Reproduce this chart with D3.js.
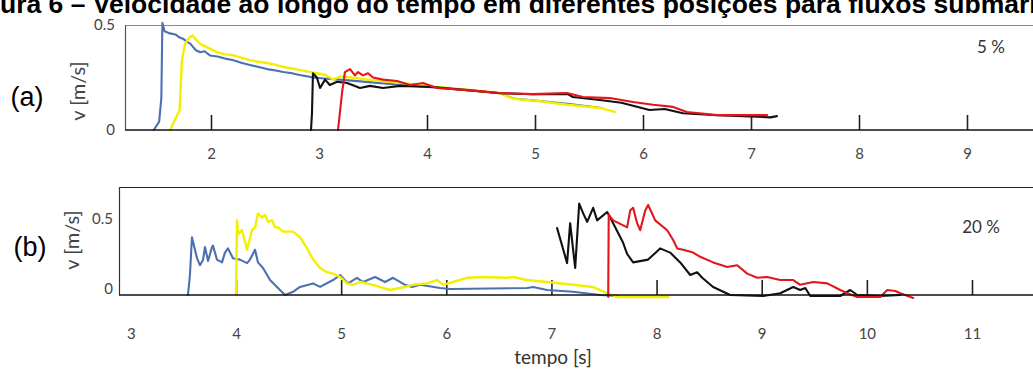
<!DOCTYPE html>
<html><head><meta charset="utf-8">
<script src="https://cdn.jsdelivr.net/npm/d3@7"></script>
<style>body{margin:0;background:#fff;overflow:hidden;} svg{display:block;}</style>
</head><body><svg id="c" width="1033" height="374"></svg>
<script>
// ---------- data ----------
const titleText = "Figura 6 – Velocidade ao longo do tempo em diferentes posições para fluxos submarinos";
const panelLabels = ["(a)", "(b)"];
const percentLabels = ["5 %", "20 %"];
const yAxisTitle = "v [m/s]";
const xAxisTitle = "tempo [s]";
const xTickLabelsA = [2, 3, 4, 5, 6, 7, 8, 9];
const xTickMarksA = [2, 4, 5, 6, 7, 8, 9];
const xTickLabelsB = [3, 4, 5, 6, 7, 8, 9, 10, 11];
const xTickMarksB = [4, 5, 6, 7, 8, 9, 10, 11];
const yTickValues = [0, 0.5];
const seriesColors = ["#4b70b4", "#f3ef00", "#111111", "#e3161d"];

// panel (a): 5 %   [time (s), velocity (m/s)]
const blueA = [[1.47,0],[1.52,0.04],[1.54,0.15],[1.55,0.51],[1.57,0.47],[1.62,0.46],[1.67,0.455],[1.71,0.44],[1.74,0.435],[1.78,0.42],[1.81,0.41],[1.86,0.38],[1.90,0.37],[1.94,0.375],[1.99,0.355],[2.06,0.35],[2.13,0.34],[2.20,0.333],[2.28,0.32],[2.36,0.31],[2.44,0.30],[2.52,0.29],[2.60,0.283],[2.67,0.276],[2.75,0.27],[2.82,0.262],[2.90,0.255],[2.94,0.25],[3.05,0.245],[3.3,0.235],[3.6,0.222],[4.0,0.205],[4.4,0.19],[4.68,0.175],[4.8,0.15],[5.0,0.14],[5.3,0.125],[5.62,0.105]];
const yellowA = [[1.62,0],[1.71,0.095],[1.73,0.33],[1.76,0.41],[1.80,0.44],[1.83,0.45],[1.86,0.43],[1.90,0.41],[1.98,0.39],[2.06,0.37],[2.13,0.36],[2.20,0.357],[2.28,0.345],[2.36,0.333],[2.44,0.325],[2.52,0.319],[2.60,0.31],[2.67,0.30],[2.75,0.293],[2.82,0.286],[2.90,0.278],[2.98,0.27],[3.06,0.262],[3.13,0.24],[3.2,0.255],[3.3,0.25],[3.5,0.237],[3.75,0.225],[4.0,0.21],[4.3,0.195],[4.68,0.175],[4.8,0.148],[5.0,0.14],[5.3,0.12],[5.6,0.105],[5.74,0.086]];
const blackA = [[2.926,0],[2.935,0.08],[2.944,0.27],[2.98,0.25],[3.01,0.2],[3.056,0.24],[3.10,0.214],[3.167,0.23],[3.26,0.224],[3.38,0.2],[3.472,0.21],[3.593,0.2],[3.75,0.21],[4.056,0.205],[4.37,0.19],[4.676,0.175],[4.98,0.17],[5.3,0.172],[5.35,0.157],[5.6,0.143],[5.8,0.13],[6.06,0.095],[6.2,0.1],[6.37,0.08],[6.685,0.07],[6.99,0.065],[7.18,0.06],[7.24,0.066]];
const redA = [[3.176,0],[3.213,0.176],[3.24,0.276],[3.287,0.29],[3.333,0.26],[3.361,0.276],[3.407,0.26],[3.454,0.27],[3.5,0.25],[3.593,0.24],[3.722,0.233],[3.843,0.214],[3.963,0.224],[4.093,0.2],[4.37,0.19],[4.676,0.176],[4.98,0.171],[5.296,0.176],[5.444,0.157],[5.694,0.152],[5.907,0.133],[6.093,0.12],[6.278,0.11],[6.407,0.086],[6.685,0.071],[6.99,0.071],[7.15,0.071]];

// panel (b): 20 %
const blueB = [[3.543,-0.043],[3.562,0.1],[3.581,0.37],[3.629,0.22],[3.657,0.17],[3.686,0.207],[3.705,0.3],[3.734,0.2],[3.772,0.3],[3.781,0.31],[3.819,0.21],[3.867,0.19],[3.895,0.26],[3.924,0.29],[3.971,0.22],[4.038,0.21],[4.105,0.185],[4.133,0.21],[4.181,0.28],[4.209,0.19],[4.257,0.15],[4.324,0.064],[4.39,0.015],[4.466,-0.043],[4.542,-0.02],[4.609,0.015],[4.733,0.04],[4.8,0.015],[4.923,0.064],[4.99,0.1],[5.066,0.04],[5.151,0.08],[5.208,0.05],[5.323,0.086],[5.418,0.05],[5.494,0.08],[5.608,0.03],[5.675,0.014],[5.751,0.03],[5.941,0.007],[6.036,0],[6.769,0.007],[6.826,0.014],[6.959,-0.007],[7.206,-0.02],[7.463,-0.043],[7.625,-0.05]];
const yellowB = [[4.0,-0.043],[4.01,0.49],[4.019,0.39],[4.057,0.42],[4.105,0.28],[4.152,0.42],[4.181,0.44],[4.209,0.54],[4.247,0.51],[4.276,0.53],[4.304,0.48],[4.343,0.49],[4.371,0.44],[4.4,0.44],[4.447,0.41],[4.542,0.41],[4.609,0.37],[4.676,0.29],[4.733,0.21],[4.8,0.15],[4.866,0.12],[4.923,0.11],[4.99,0.086],[5.056,0.04],[5.113,0.03],[5.18,0.05],[5.304,0.03],[5.465,-0.007],[5.56,0.007],[5.684,0.03],[5.817,0.04],[5.912,0.064],[5.97,0.03],[6.065,0.05],[6.198,0.08],[6.35,0.086],[6.578,0.08],[6.636,0.086],[6.769,0.064],[6.959,0.05],[7.206,0.03],[7.397,0.014],[7.53,-0.03],[7.625,-0.057],[8.11,-0.057]];
const blackB = [[7.054,0.435],[7.149,0.185],[7.178,0.47],[7.226,0.15],[7.264,0.61],[7.302,0.54],[7.34,0.48],[7.397,0.58],[7.435,0.49],[7.53,0.55],[7.559,0.51],[7.587,0.47],[7.682,0.33],[7.72,0.25],[7.777,0.19],[7.92,0.21],[8.034,0.29],[8.129,0.26],[8.225,0.19],[8.32,0.1],[8.386,0.12],[8.434,0.08],[8.538,0.014],[8.7,-0.043],[9.014,-0.05],[9.176,-0.03],[9.3,0.014],[9.366,-0.007],[9.414,0.007],[9.462,-0.05],[9.747,-0.05],[9.842,-0.007],[9.909,-0.043],[10.128,-0.05],[10.318,-0.043]];
const redB = [[7.54,-0.057],[7.545,0.53],[7.587,0.49],[7.72,0.44],[7.749,0.56],[7.777,0.58],[7.815,0.47],[7.844,0.42],[7.892,0.56],[7.92,0.6],[7.987,0.49],[8.101,0.42],[8.158,0.35],[8.196,0.29],[8.253,0.28],[8.348,0.26],[8.415,0.23],[8.538,0.19],[8.672,0.157],[8.767,0.17],[8.862,0.11],[8.957,0.08],[9.052,0.086],[9.176,0.064],[9.3,0.064],[9.366,0.03],[9.49,0.05],[9.623,0.04],[9.747,-0.007],[9.814,-0.03],[9.909,-0.057],[10.128,-0.057],[10.194,-0.007],[10.27,-0.014],[10.318,-0.03],[10.44,-0.064]];

// ---------- layout ----------
const svg = d3.select("#c");
const tickFont = "Lato, 'Open Sans', sans-serif";
const titleSize = 26.5;

// title (cropped at both sides like the reference)
const tmp = svg.append("text").attr("font-family","'Liberation Sans', Arial, sans-serif")
  .attr("font-weight","bold").attr("font-size",titleSize).text("Fig");
const figW = tmp.node().getComputedTextLength();
tmp.remove();
svg.append("text").attr("x", -figW).attr("y", 13)
  .attr("font-family","'Liberation Sans', Arial, sans-serif").attr("font-weight","bold")
  .attr("font-size",titleSize).attr("fill","#000").text(titleText);

const panels = [
  { series:[blueA,yellowA,blackA,redA], left:125, right:1033, top:25, base:130,
    x: d3.scaleLinear().domain([2,9]).range([211,967]),
    y: d3.scaleLinear().domain([0,0.5]).range([130,25]),
    tickLabels:xTickLabelsA, tickMarks:xTickMarksA, labelPad:18, yPad:10,
    label:panelLabels[0], labelPos:[27,97], ytPos:[78,91], pct:percentLabels[0], pctPos:[991,47],
    frameTop:"#8a8a8a", frameLeft:"#555" },
  { series:[blueB,yellowB,blackB,redB], left:119, right:1033, top:187, base:295,
    x: d3.scaleLinear().domain([4,11]).range([236,972]),
    y: d3.scaleLinear().domain([0,0.5]).range([289,219]),
    tickLabels:xTickLabelsB, tickMarks:xTickMarksB, labelPad:33, yPad:6,
    label:panelLabels[1], labelPos:[30,247], ytPos:[72,240], pct:percentLabels[1], pctPos:[981,227],
    frameTop:"#222", frameLeft:"#333" }
];

panels.forEach(p => {
  const g = svg.append("g");
  // frame
  g.append("line").attr("x1",p.left).attr("x2",p.right).attr("y1",p.top+0.5).attr("y2",p.top+0.5)
    .attr("stroke",p.frameTop).attr("stroke-width",1.2);
  g.append("line").attr("x1",p.left+0.5).attr("x2",p.left+0.5).attr("y1",p.top).attr("y2",p.base)
    .attr("stroke",p.frameLeft).attr("stroke-width",1.2);

  // tick marks (pointing up, inside)
  const tm = g.append("g").attr("transform",`translate(0,${p.base})`)
    .call(d3.axisBottom(p.x).tickValues(p.tickMarks).tickSize(-15).tickSizeOuter(0).tickFormat(""));
  tm.select(".domain").remove();
  tm.selectAll(".tick line").attr("stroke","#222").attr("stroke-width",1.6);

  // tick labels
  const tl = g.append("g").attr("transform",`translate(0,${p.base})`)
    .call(d3.axisBottom(p.x).tickValues(p.tickLabels).tickSize(0).tickPadding(p.labelPad).tickFormat(d3.format("d")));
  tl.select(".domain").remove();
  tl.selectAll("text").attr("font-family",tickFont).attr("font-size",15).attr("fill","#444");

  // y labels
  const ya = g.append("g").attr("transform",`translate(${p.left},0)`)
    .call(d3.axisLeft(p.y).tickValues(yTickValues).tickSize(0).tickPadding(p.yPad).tickFormat(d => d === 0 ? "0" : "0.5"));
  ya.select(".domain").remove();
  ya.selectAll("text").attr("font-family",tickFont).attr("font-size",15).attr("fill","#444");

  // series
  const line = d3.line().x(d => p.x(d[0])).y(d => p.y(d[1]));
  p.series.forEach((s,i) => {
    g.append("path").datum(s).attr("d",line).attr("fill","none")
      .attr("stroke",seriesColors[i]).attr("stroke-width", i===1 ? 2.4 : 2.1)
      .attr("stroke-linejoin","round").attr("stroke-linecap","round");
  });

  // baseline on top
  g.append("line").attr("x1",p.left).attr("x2",p.right).attr("y1",p.base).attr("y2",p.base)
    .attr("stroke","#111").attr("stroke-width",1.5);

  // texts
  g.append("text").attr("x",p.labelPos[0]).attr("y",p.labelPos[1]).attr("dy","0.35em")
    .attr("text-anchor","middle").attr("font-family","'Liberation Sans', Arial, sans-serif")
    .attr("font-size",27).attr("fill","#000").text(p.label);
  g.append("text").attr("transform",`translate(${p.ytPos[0]},${p.ytPos[1]}) rotate(-90)`)
    .attr("dy","0.35em").attr("text-anchor","middle").attr("font-family",tickFont)
    .attr("font-size",20).attr("fill","#444").text(yAxisTitle);
  g.append("text").attr("x",p.pctPos[0]).attr("y",p.pctPos[1]).attr("dy","0.35em")
    .attr("text-anchor","middle").attr("font-family",tickFont).attr("font-size",17)
    .attr("fill","#333").text(p.pct);
});

svg.append("text").attr("x",553).attr("y",357).attr("dy","0.35em").attr("text-anchor","middle")
  .attr("font-family",tickFont).attr("font-size",19).attr("fill","#333").text(xAxisTitle);
</script>
</body></html>
